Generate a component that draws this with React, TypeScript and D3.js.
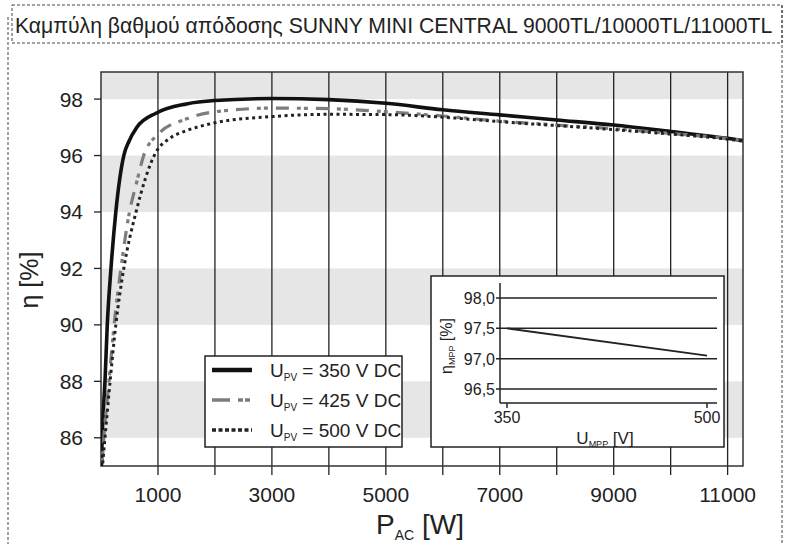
import React from "react";
import * as d3 from "d3";

const TITLE = "Καμπύλη βαθμού απόδοσης SUNNY MINI CENTRAL 9000TL/10000TL/11000TL";

const X_TICKS = [1000, 2000, 3000, 4000, 5000, 6000, 7000, 8000, 9000, 10000, 11000];
const X_LABELS = [1000, 3000, 5000, 7000, 9000, 11000];
const Y_TICKS = [86, 88, 90, 92, 94, 96, 98];
const GRAY_BANDS: [number, number][] = [[98, 99], [94, 96], [90, 92], [86, 88]];

const P_350 = [0, 20, 70, 110, 175, 260, 400, 490, 630, 965, 1500, 2000, 3000, 4000, 5000, 6000, 7000, 8000, 9000, 10000, 11000, 11300];
const ETA_350 = [84.4, 86, 88, 90, 92, 94, 96, 96.5, 97.0, 97.5, 97.83, 97.95, 98.02, 97.98, 97.85, 97.62, 97.44, 97.26, 97.08, 96.85, 96.61, 96.52];

const P_425 = [0, 50, 140, 230, 350, 500, 620, 750, 1000, 1500, 2000, 3000, 4000, 5000, 6000, 7000, 8000, 9000, 10000, 11000, 11300];
const ETA_425 = [84.4, 86, 88, 90, 92, 94, 95, 96, 96.75, 97.3, 97.55, 97.68, 97.66, 97.55, 97.4, 97.22, 97.08, 96.95, 96.78, 96.6, 96.52];

const P_500 = [0, 70, 160, 260, 400, 615, 960, 1200, 1500, 2000, 3000, 4000, 5000, 6000, 7000, 8000, 9000, 10000, 11000, 11300];
const ETA_500 = [84.4, 86, 88, 90, 92, 94, 96.1, 96.6, 96.88, 97.16, 97.38, 97.46, 97.45, 97.36, 97.2, 97.06, 96.92, 96.76, 96.58, 96.5];

const LEGEND = ["350", "425", "500"];

const INSET_U = [350, 500];
const INSET_ETA = [97.5, 97.05];
const INSET_Y_TICKS = [96.5, 97.0, 97.5, 98.0];
const INSET_X_TICKS = [350, 500];

const FONT = "'Liberation Sans', Arial, sans-serif";

export default function App() {
  const L = 101, R = 743, T = 72, B = 466;
  const x = d3.scaleLinear().domain([0, 11270]).range([L, R]);
  const y = d3.scaleLinear().domain([85.0, 98.96]).range([B, T]);

  const mk = (ps: number[], es: number[]) =>
    d3.line<number>().x((_, i) => x(ps[i])).y((_, i) => y(es[i])).curve(d3.curveMonotoneX)(ps) || "";

  const styles = [
    { stroke: "#111", width: 3.6, dash: undefined as string | undefined },
    { stroke: "#7d7d7d", width: 3.2, dash: "13 8 4 3 4 8" },
    { stroke: "#222", width: 3, dash: "3 3.5" },
  ];
  const paths = [mk(P_350, ETA_350), mk(P_425, ETA_425), mk(P_500, ETA_500)];

  // inset
  const iL = 500, iR = 717, iT = 283, iB = 403;
  const ix = d3.scaleLinear().domain([350, 500]).range([507, 707]);
  const iy = d3.scaleLinear().domain([96.5, 98.0]).range([389, 298]);
  const insetLine = d3.line<number>().x((_, i) => ix(INSET_U[i])).y((_, i) => iy(INSET_ETA[i]))(INSET_U) || "";

  return (
    <svg width={785} height={544} style={{ position: "absolute", left: 0, top: 0, background: "#fff" }} fontFamily={FONT}>
      <defs>
        <clipPath id="plotclip"><rect x={L} y={T} width={R - L} height={B - T} /></clipPath>
      </defs>
      {/* outer dashed frame */}
      <line x1={8} x2={8} y1={17} y2={544} stroke="#444" strokeWidth={1} strokeDasharray="3 2" />
      <line x1={782} x2={782} y1={5} y2={544} stroke="#444" strokeWidth={1} strokeDasharray="3 2" />
      <rect x={12} y={5} width={770} height={38} fill="none" stroke="#444" strokeWidth={1} strokeDasharray="3 2" />
      <text x={15} y={33} fontSize={21.2} fill="#222">{TITLE}</text>

      {/* gray bands */}
      {GRAY_BANDS.map(([a, b], i) => (
        <rect key={i} x={L} width={R - L} y={y(Math.min(b, 98.96))} height={y(a) - y(Math.min(b, 98.96))} fill="#e6e6e6" />
      ))}
      {/* vertical grid */}
      {X_TICKS.map((t) => (
        <line key={t} x1={x(t)} x2={x(t)} y1={T} y2={B + 9} stroke="#222" strokeWidth={1.3} />
      ))}
      {/* frame */}
      <rect x={L} y={T} width={R - L} height={B - T} fill="none" stroke="#333" strokeWidth={1.5} />
      {/* y ticks */}
      {Y_TICKS.map((t) => (
        <g key={t}>
          <line x1={L - 7} x2={L} y1={y(t)} y2={y(t)} stroke="#222" strokeWidth={1.3} />
          <text x={83} y={y(t) + 7.5} fontSize={21} textAnchor="end" fill="#222">{t}</text>
        </g>
      ))}
      {X_LABELS.map((t) => (
        <text key={t} x={x(t)} y={502} fontSize={21} textAnchor="middle" fill="#222">{t}</text>
      ))}
      <text transform="translate(38,280) rotate(-90)" fontSize={25} textAnchor="middle" fill="#222">η [%]</text>
      <text x={420} y={534} fontSize={28} textAnchor="middle" fill="#222">
        P<tspan fontSize={14} dy={6}>AC</tspan><tspan dy={-6}> [W]</tspan>
      </text>

      {/* curves */}
      <g clipPath="url(#plotclip)">
        {paths.map((d, i) => (
          <path key={i} d={d} fill="none" stroke={styles[i].stroke} strokeWidth={styles[i].width} strokeDasharray={styles[i].dash} />
        ))}
      </g>

      {/* legend */}
      <rect x={205} y={356} width={197} height={91} fill="#fff" stroke="#222" strokeWidth={1.5} />
      {LEGEND.map((v, i) => {
        const cy = 370 + i * 30;
        return (
          <g key={v}>
            <line x1={212} x2={252} y1={cy} y2={cy} stroke={styles[i].stroke} strokeWidth={i === 0 ? 4.5 : 3.5} strokeDasharray={i === 1 ? "18 8 5 2 5 20" : i === 2 ? "4 2.5" : undefined} />
            <text x={270} y={cy + 7} fontSize={19} fill="#222">
              U<tspan fontSize={10} dy={4}>PV</tspan><tspan dy={-4}> = {v} V DC</tspan>
            </text>
          </g>
        );
      })}

      {/* inset */}
      <rect x={431} y={276} width={293} height={171} fill="#fff" stroke="#222" strokeWidth={1.5} />
      {INSET_Y_TICKS.map((t) => (
        <g key={t}>
          <line x1={iL - 4} x2={iR} y1={iy(t)} y2={iy(t)} stroke="#222" strokeWidth={1.5} />
          <text x={495} y={iy(t) + 6} fontSize={16} textAnchor="end" fill="#222">{t.toFixed(1).replace(".", ",")}</text>
        </g>
      ))}
      <line x1={iL} x2={iL} y1={iT} y2={iB} stroke="#222" strokeWidth={1.5} />
      <line x1={iL} x2={iR} y1={iB} y2={iB} stroke="#222" strokeWidth={1.5} />
      {INSET_X_TICKS.map((t) => (
        <g key={t}>
          <line x1={ix(t)} x2={ix(t)} y1={iB} y2={iB + 5} stroke="#222" strokeWidth={1.5} />
          <text x={ix(t)} y={423} fontSize={16} textAnchor="middle" fill="#222">{t}</text>
        </g>
      ))}
      <path d={insetLine} fill="none" stroke="#222" strokeWidth={1.8} />
      <text x={605} y={444} fontSize={17} textAnchor="middle" fill="#222">
        U<tspan fontSize={9} dy={3}>MPP</tspan><tspan dy={-3}> [V]</tspan>
      </text>
      <text transform="translate(452,346) rotate(-90)" fontSize={16} textAnchor="middle" fill="#222">
        η<tspan fontSize={9} dy={3}>MPP</tspan><tspan dy={-3}> [%]</tspan>
      </text>
    </svg>
  );
}
